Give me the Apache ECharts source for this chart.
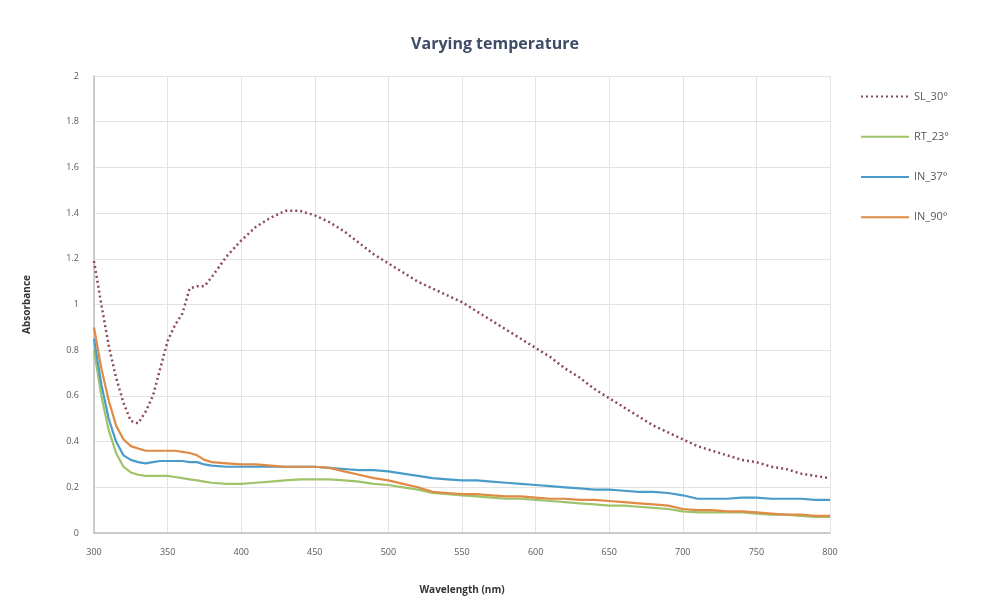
<!DOCTYPE html>
<html>
<head>
<meta charset="utf-8">
<title>Varying temperature</title>
<script src="https://cdn.jsdelivr.net/npm/echarts@6/dist/echarts.min.js"></script>
<style>
  html, body { margin: 0; padding: 0; background: #fff; }
  #chart { width: 990px; height: 603px; }
</style>
</head>
<body>
<div id="chart"></div>
<script>
// wavelength (nm): 5 nm steps up to 380, then 10 nm
var wavelengths = [300,305,310,315,320,325,330,335,340,345,350,355,360,365,370,375,380,
  390,400,410,420,430,440,450,460,470,480,490,500,510,520,530,540,550,560,570,580,590,
  600,610,620,630,640,650,660,670,680,690,700,710,720,730,740,750,760,770,780,790,800];

var sl30 = [1.19,1.00,0.82,0.68,0.57,0.49,0.48,0.53,0.60,0.72,0.84,0.91,0.96,1.07,1.08,1.08,1.12,
  1.21,1.28,1.34,1.38,1.41,1.41,1.39,1.36,1.32,1.27,1.22,1.18,1.14,1.10,1.07,1.04,1.01,0.97,0.93,0.89,0.85,
  0.81,0.77,0.72,0.68,0.63,0.59,0.55,0.51,0.47,0.44,0.41,0.38,0.36,0.34,0.32,0.31,0.29,0.28,0.26,0.25,0.24];

var rt23 = [0.80,0.60,0.45,0.35,0.29,0.265,0.255,0.25,0.25,0.25,0.25,0.245,0.24,0.235,0.23,0.225,0.22,
  0.215,0.215,0.22,0.225,0.23,0.235,0.235,0.235,0.23,0.225,0.215,0.21,0.20,0.19,0.175,0.17,0.165,0.16,0.155,0.15,0.15,
  0.145,0.14,0.135,0.13,0.125,0.12,0.12,0.115,0.11,0.105,0.095,0.09,0.09,0.09,0.09,0.085,0.08,0.08,0.075,0.07,0.07];

var in37 = [0.85,0.65,0.50,0.40,0.34,0.32,0.31,0.305,0.31,0.315,0.315,0.315,0.315,0.31,0.31,0.30,0.295,
  0.29,0.29,0.29,0.29,0.29,0.29,0.29,0.285,0.28,0.275,0.275,0.27,0.26,0.25,0.24,0.235,0.23,0.23,0.225,0.22,0.215,
  0.21,0.205,0.20,0.195,0.19,0.19,0.185,0.18,0.18,0.175,0.165,0.15,0.15,0.15,0.155,0.155,0.15,0.15,0.15,0.145,0.145];

var in90 = [0.90,0.72,0.58,0.47,0.41,0.38,0.37,0.36,0.36,0.36,0.36,0.36,0.355,0.35,0.34,0.32,0.31,
  0.305,0.30,0.30,0.295,0.29,0.29,0.29,0.285,0.27,0.255,0.24,0.23,0.215,0.20,0.18,0.175,0.17,0.17,0.165,0.16,0.16,
  0.155,0.15,0.15,0.145,0.145,0.14,0.135,0.13,0.125,0.12,0.105,0.10,0.10,0.095,0.095,0.09,0.085,0.08,0.08,0.075,0.075];

var seriesNames = ['SL_30°', 'RT_23°', 'IN_37°', 'IN_90°'];
var seriesValues = [sl30, rt23, in37, in90];
var seriesColors = ['#8c4a56', '#9fc36a', '#4a9cc8', '#df8a45'];

function pairs(vals) {
  return wavelengths.map(function (w, i) { return [w, vals[i]]; });
}

var chart = echarts.init(document.getElementById('chart'));

var series = seriesNames.map(function (name, k) {
  return {
    name: name,
    type: 'line',
    data: pairs(seriesValues[k]),
    symbol: 'none',
    showSymbol: false,
    z: k === 0 ? 5 : 3,
    lineStyle: {
      width: k === 0 ? 2.5 : 2.2,
      type: k === 0 ? [2, 3] : 'solid',
      color: seriesColors[k]
    },
    itemStyle: { color: seriesColors[k] }
  };
});

chart.setOption({
  animation: false,
  backgroundColor: '#ffffff',
  title: {
    text: 'Varying temperature',
    left: 'center',
    top: 31,
    textStyle: {
      fontFamily: 'Open Sans',
      fontSize: 16,
      fontWeight: 'bold',
      color: '#3e4c66'
    }
  },
  legend: {
    orient: 'vertical',
    left: 855,
    top: 86,
    itemWidth: 48,
    itemHeight: 14,
    itemGap: 29,
    itemStyle: { color: 'transparent', borderColor: 'transparent', borderWidth: 0 },
    textStyle: { fontFamily: 'Open Sans', fontSize: 11, color: '#595959' },
    data: seriesNames
  },
  grid: { left: 94, right: 160, top: 76, bottom: 70 },
  xAxis: {
    type: 'value',
    min: 300,
    max: 800,
    interval: 50,
    name: 'Wavelength (nm)',
    nameLocation: 'middle',
    nameGap: 52,
    nameTextStyle: { fontFamily: 'Open Sans', fontSize: 10, fontWeight: 'bold', color: '#333' },
    axisLine: { show: true, lineStyle: { color: '#bfbfbf', width: 1.5 } },
    axisTick: { show: false },
    axisLabel: { fontFamily: 'Open Sans', fontSize: 9, color: '#595959', margin: 15 },
    splitLine: { show: true, lineStyle: { color: '#e3e3e3', width: 1 } }
  },
  yAxis: {
    type: 'value',
    min: 0,
    max: 2,
    interval: 0.2,
    name: 'Absorbance',
    nameLocation: 'middle',
    nameGap: 62,
    nameRotate: 90,
    nameTextStyle: { fontFamily: 'Open Sans', fontSize: 10, fontWeight: 'bold', color: '#333' },
    axisLine: { show: true, lineStyle: { color: '#bfbfbf', width: 1.5 } },
    axisTick: { show: false },
    axisLabel: {
      fontFamily: 'Open Sans', fontSize: 9, color: '#595959', margin: 15,
      formatter: function (v) { return String(Math.round(v * 10) / 10); }
    },
    splitLine: { show: true, lineStyle: { color: '#e3e3e3', width: 1 } }
  },
  series: series
});
</script>
</body>
</html>
